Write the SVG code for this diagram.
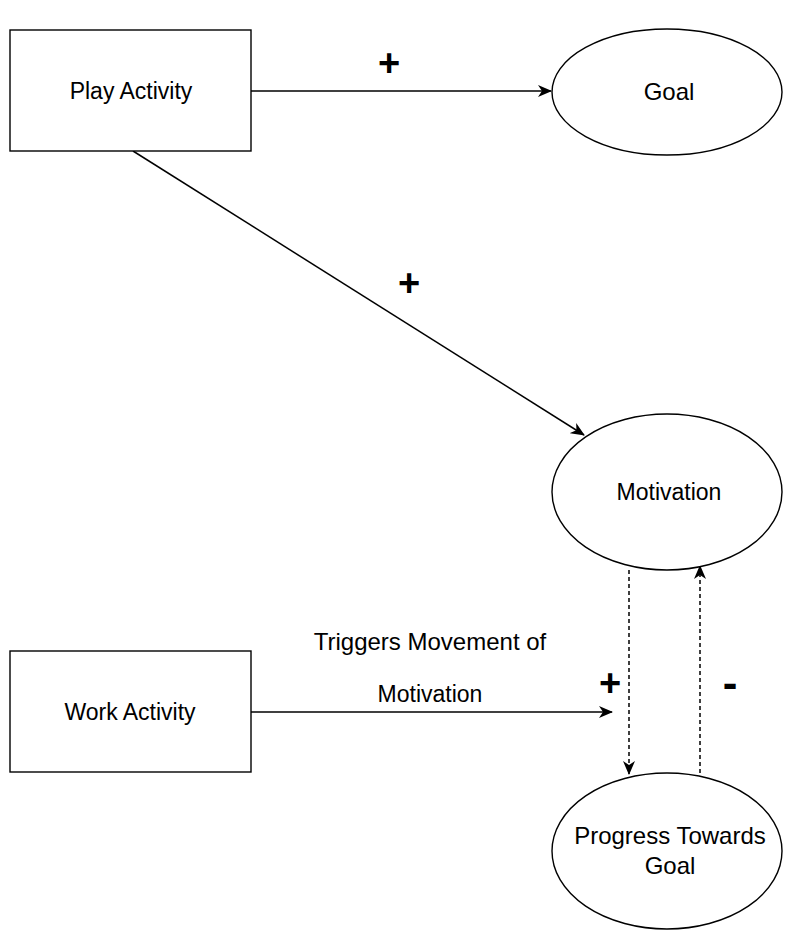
<svg xmlns="http://www.w3.org/2000/svg" width="785" height="930" viewBox="0 0 785 930">
<style>
.box{fill:#fff;stroke:#000;stroke-width:1.4}
.t{font-family:"Liberation Sans",Arial,sans-serif;font-size:23px;fill:#000;text-anchor:middle}
.b{font-size:24px}
.s{font-family:"Liberation Sans",Arial,sans-serif;font-size:38px;font-weight:bold;fill:#000;text-anchor:middle}
.c{fill:none;stroke:#000;stroke-width:1.5}
.d{fill:none;stroke:#000;stroke-width:1.5;stroke-dasharray:4 3}
</style>
<defs>
<marker id="a" viewBox="0 0 14 12" refX="13" refY="6" markerWidth="14" markerHeight="12" markerUnits="userSpaceOnUse" orient="auto">
<path d="M0,0 L14,6 L0,12 L4,6 Z" fill="#000"/>
</marker>
</defs>
<rect width="785" height="930" fill="#fff"/>
<g id="connectors">
<line class="c" x1="251" y1="91" x2="551" y2="91" marker-end="url(#a)"/>
<line class="c" x1="133" y1="151" x2="584" y2="435" marker-end="url(#a)"/>
<line class="c" x1="251" y1="712" x2="612" y2="712" marker-end="url(#a)"/>
<line class="d" x1="629" y1="570" x2="629" y2="774" marker-end="url(#a)"/>
<line class="d" x1="700" y1="773" x2="700" y2="566" marker-end="url(#a)"/>
<text class="s" x="389" y="76">+</text>
<text class="s" x="409" y="296">+</text>
<text class="t b" x="430" y="650">Triggers Movement of</text>
<text class="t" x="430" y="702">Motivation</text>
<text class="s" x="610" y="696">+</text>
<text class="s" x="730" y="698" style="font-size:44px">-</text>
</g>
<g id="play">
<rect class="box" x="10" y="30" width="241" height="121"/>
<text class="t" x="131" y="99">Play Activity</text>
</g>
<g id="goal">
<ellipse class="box" cx="667" cy="92" rx="115" ry="63"/>
<text class="t b" x="669" y="100">Goal</text>
</g>
<g id="motivation">
<ellipse class="box" cx="667" cy="492" rx="115" ry="78"/>
<text class="t" x="669" y="500">Motivation</text>
</g>
<g id="work">
<rect class="box" x="10" y="651" width="241" height="121"/>
<text class="t" x="130" y="720">Work Activity</text>
</g>
<g id="progress">
<ellipse class="box" cx="667" cy="851" rx="115" ry="78"/>
<text class="t b" x="670" y="844">Progress Towards</text>
<text class="t b" x="670" y="874">Goal</text>
</g>
</svg>
